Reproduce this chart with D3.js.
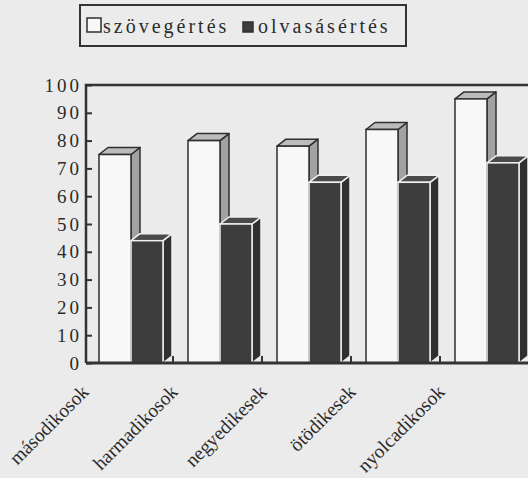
<!DOCTYPE html>
<html lang="hu">
<head>
    <meta charset="UTF-8">
    <title>szövegértés / olvasásértés</title>
    <style>
        body { margin: 0; background: #ebebeb; }
        svg text {
            font-family: "Liberation Serif", "DejaVu Serif", serif !important;
            fill: #2b2b2b;
        }
    </style>
</head>
<body>
    <div id="chart"></div>
    <script src="https://d3js.org/d3.v7.min.js"></script>
    <script>

        // data
        var categories = ["másodikosok", "harmadikosok", "negyedikesek", "ötödikesek", "nyolcadikosok"];
        var series = ["szövegértés", "olvasásértés"];
        var szovegertes = [75, 80, 78, 84, 95];
        var olvasasertes = [44, 50, 65, 65, 72];
        var yTicks = [0, 10, 20, 30, 40, 50, 60, 70, 80, 90, 100];

        var width = 528, height = 478;
        var plot = {left: 86, top: 85, right: 531, bottom: 363};
        var depth = {dx: 9, dy: 7};
        var serif = "'Liberation Serif', 'DejaVu Serif', serif";

        var svg = d3.select("#chart").append("svg")
            .attr("width", width)
            .attr("height", height)
            .attr("font-family", serif);

        svg.append("rect")
            .attr("width", width).attr("height", height)
            .attr("fill", "#ebebeb");

        var x = d3.scaleBand()
            .domain(categories)
            .range([plot.left, plot.right]);

        // position of the two bars inside one category
        var xInner = d3.scaleBand()
            .domain(series)
            .range([13, 77]);

        var y = d3.scaleLinear()
            .domain([0, 100])
            .range([plot.bottom, plot.top]);

        var rows = [];
        categories.forEach(function(c, i) {
            rows.push({cat: c, key: series[0], value: szovegertes[i]});
            rows.push({cat: c, key: series[1], value: olvasasertes[i]});
        });

        var style = {
            "szövegértés": {front: "#f8f8f8", top: "#bcbcbc", side: "#a2a2a2", stroke: "#2f2f2f"},
            "olvasásértés": {front: "#3d3d3d", top: "#4a4a4a", side: "#303030", stroke: "#efefef"}
        };

        // frame
        svg.append("path")
            .attr("d", "M" + plot.left + "," + plot.bottom + "V" + plot.top + "H" + width)
            .attr("fill", "none")
            .attr("stroke", "#333")
            .attr("stroke-width", 2.5);

        // y axis, ticks pointing into the plot
        var yAxis = svg.append("g")
            .attr("transform", "translate(" + plot.left + ",0)")
            .call(d3.axisLeft(y).tickValues(yTicks).tickSize(-6).tickPadding(4));
        yAxis.attr("font-family", serif).attr("font-size", 19);
        yAxis.select(".domain").remove();
        yAxis.selectAll(".tick line").attr("stroke", "#333").attr("stroke-width", 2);
        yAxis.selectAll(".tick text")
            .style("font-size", "19px")
            .style("letter-spacing", "3px")
            .attr("fill", "#2b2b2b");

        // bars
        var bars = svg.selectAll("g.bar")
            .data(rows)
            .enter()
            .append("g")
            .attr("class", "bar");

        function geom(d) {
            var x0 = x(d.cat) + xInner(d.key);
            var w = xInner.bandwidth();
            return {x0: x0, x1: x0 + w, yt: y(d.value), yb: y(0)};
        }

        bars.append("path")
            .attr("d", function(d) {
                var g = geom(d);
                return "M" + g.x1 + "," + g.yt +
                    "L" + (g.x1 + depth.dx) + "," + (g.yt - depth.dy) +
                    "L" + (g.x1 + depth.dx) + "," + (g.yb - depth.dy) +
                    "L" + g.x1 + "," + g.yb + "Z";
            })
            .attr("fill", function(d) { return style[d.key].side; })
            .attr("stroke", function(d) { return style[d.key].stroke; })
            .attr("stroke-width", 1.5)
            .attr("stroke-linejoin", "round");

        bars.append("path")
            .attr("d", function(d) {
                var g = geom(d);
                return "M" + g.x0 + "," + g.yt +
                    "L" + (g.x0 + depth.dx) + "," + (g.yt - depth.dy) +
                    "L" + (g.x1 + depth.dx) + "," + (g.yt - depth.dy) +
                    "L" + g.x1 + "," + g.yt + "Z";
            })
            .attr("fill", function(d) { return style[d.key].top; })
            .attr("stroke", function(d) { return style[d.key].stroke; })
            .attr("stroke-width", 1.5)
            .attr("stroke-linejoin", "round");

        bars.append("rect")
            .attr("x", function(d) { return geom(d).x0; })
            .attr("y", function(d) { return geom(d).yt; })
            .attr("width", xInner.bandwidth())
            .attr("height", function(d) { return y(0) - y(d.value); })
            .attr("fill", function(d) { return style[d.key].front; })
            .attr("stroke", function(d) { return style[d.key].stroke; })
            .attr("stroke-width", 1.5);

        // base line and category ticks
        svg.append("line")
            .attr("x1", plot.left).attr("x2", width)
            .attr("y1", plot.bottom).attr("y2", plot.bottom)
            .attr("stroke", "#333")
            .attr("stroke-width", 3);

        svg.selectAll("line.xtick")
            .data(categories.slice(1))
            .enter()
            .append("line")
            .attr("class", "xtick")
            .attr("x1", function(d) { return x(d) - 2; })
            .attr("x2", function(d) { return x(d) - 2; })
            .attr("y1", plot.bottom)
            .attr("y2", plot.bottom - 7)
            .attr("stroke", "#333")
            .attr("stroke-width", 2);

        // category labels
        svg.selectAll("text.cat")
            .data(categories)
            .enter()
            .append("text")
            .attr("class", "cat")
            .attr("transform", function(d) {
                return "translate(" + (x(d) + 4) + ",393) rotate(-45)";
            })
            .attr("text-anchor", "end")
            .style("font-size", "19.5px")
            .text(function(d) { return d; });

        // legend
        var legend = svg.append("g");
        legend.append("rect")
            .attr("x", 80).attr("y", 5)
            .attr("width", 326).attr("height", 41)
            .attr("fill", "none")
            .attr("stroke", "#333")
            .attr("stroke-width", 2);

        var legendItems = [
            {key: series[0], sx: 87, sy: 18, size: 14, tx: 103},
            {key: series[1], sx: 243, sy: 22, size: 10, tx: 258}
        ];

        legend.selectAll("rect.sw")
            .data(legendItems)
            .enter()
            .append("rect")
            .attr("class", "sw")
            .attr("x", function(d) { return d.sx; })
            .attr("y", function(d) { return d.sy; })
            .attr("width", function(d) { return d.size; })
            .attr("height", function(d) { return d.size; })
            .attr("fill", function(d) { return style[d.key].front; })
            .attr("stroke", "#2f2f2f")
            .attr("stroke-width", 1.5);

        legend.selectAll("text.lt")
            .data(legendItems)
            .enter()
            .append("text")
            .attr("class", "lt")
            .attr("x", function(d) { return d.tx; })
            .attr("y", 33)
            .style("font-size", "20px")
            .style("letter-spacing", "3px")
            .text(function(d) { return d.key; });

    </script>
</body>
</html>
